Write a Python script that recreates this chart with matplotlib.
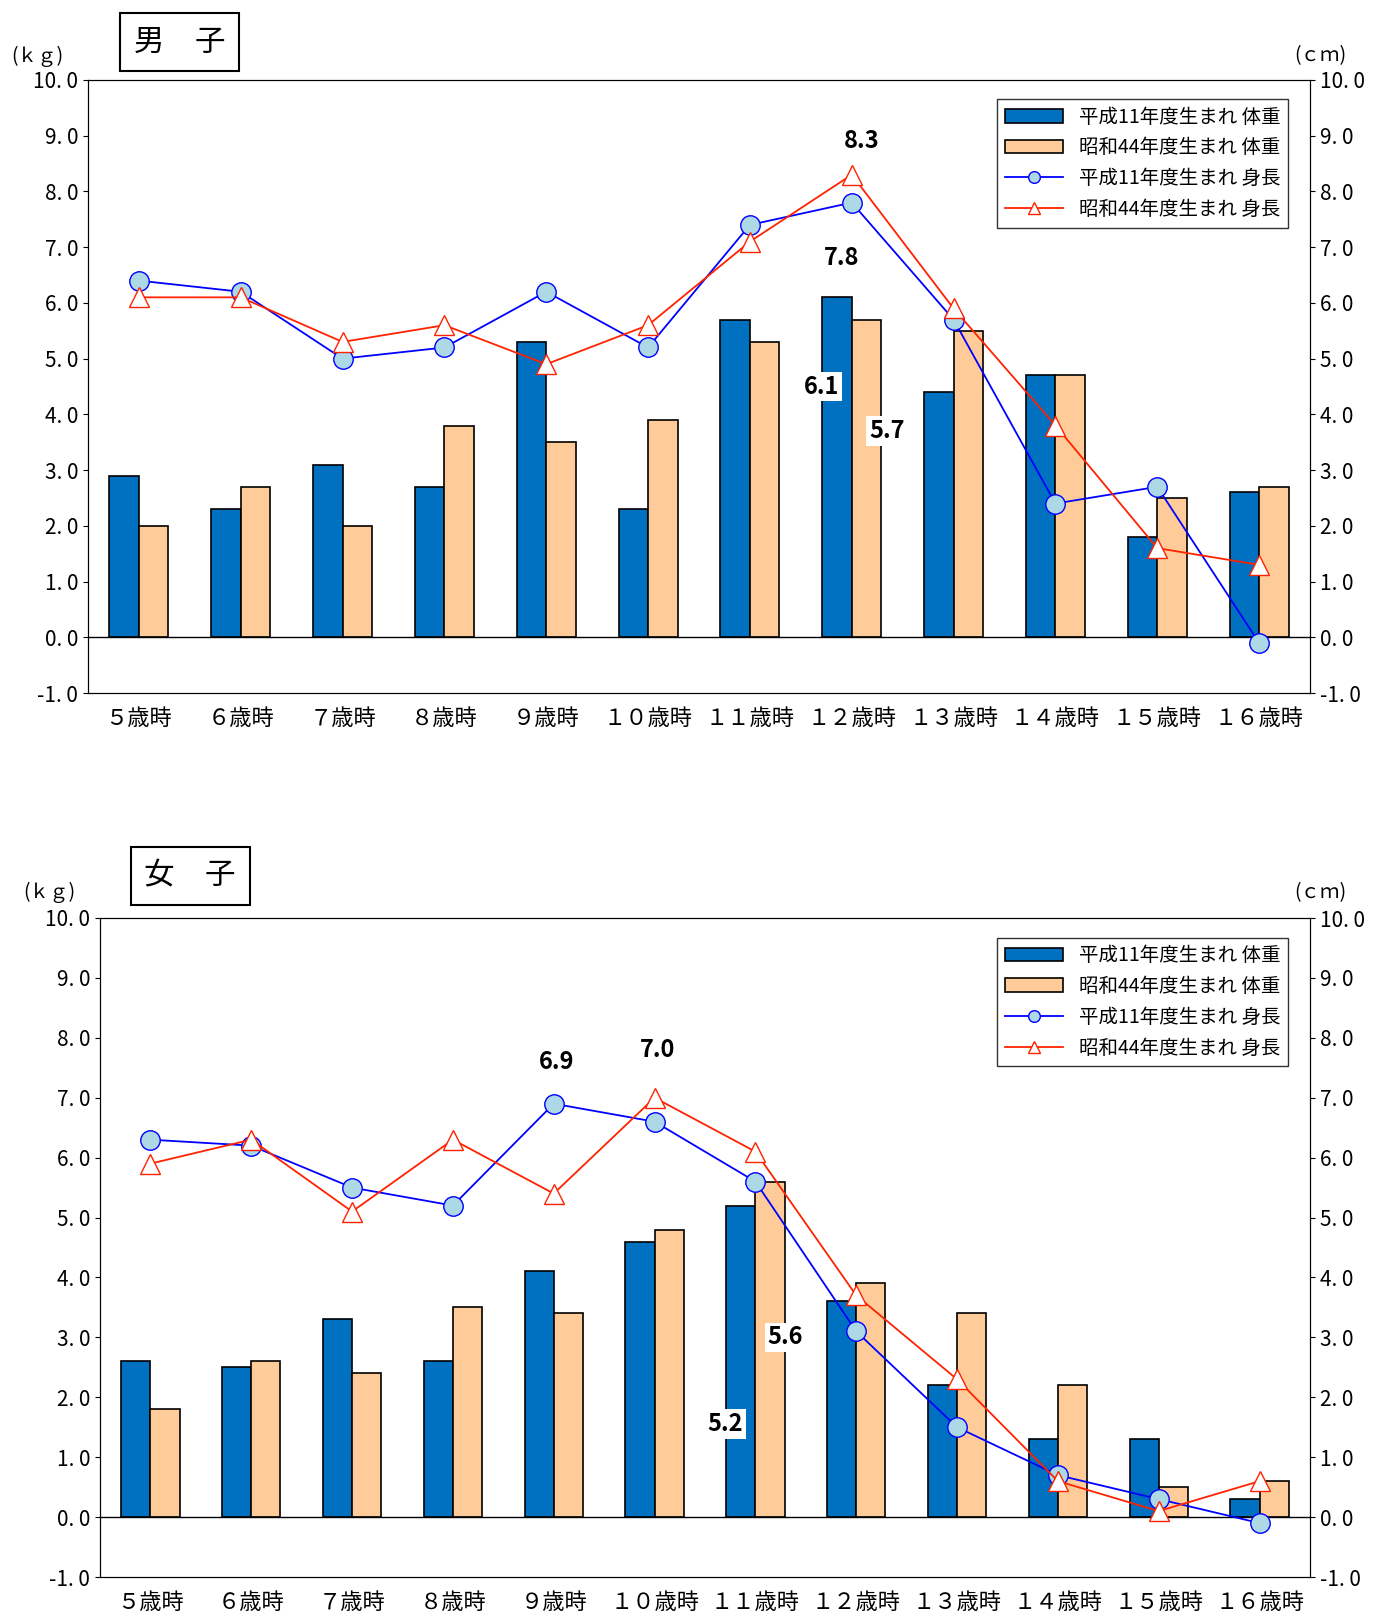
import numpy as np
import matplotlib.pyplot as plt

plt.rcParams['font.family'] = ['Noto Sans CJK JP', 'DejaVu Sans']

ages = ['５歳時', '６歳時', '７歳時', '８歳時', '９歳時', '１０歳時', '１１歳時',
        '１２歳時', '１３歳時', '１４歳時', '１５歳時', '１６歳時']

boys_w_h11 = [2.9, 2.3, 3.1, 2.7, 5.3, 2.3, 5.7, 6.1, 4.4, 4.7, 1.8, 2.6]
boys_w_s44 = [2.0, 2.7, 2.0, 3.8, 3.5, 3.9, 5.3, 5.7, 5.5, 4.7, 2.5, 2.7]
boys_h_h11 = [6.4, 6.2, 5.0, 5.2, 6.2, 5.2, 7.4, 7.8, 5.7, 2.4, 2.7, -0.1]
boys_h_s44 = [6.1, 6.1, 5.3, 5.6, 4.9, 5.6, 7.1, 8.3, 5.9, 3.8, 1.6, 1.3]

girls_w_h11 = [2.6, 2.5, 3.3, 2.6, 4.1, 4.6, 5.2, 3.6, 2.2, 1.3, 1.3, 0.3]
girls_w_s44 = [1.8, 2.6, 2.4, 3.5, 3.4, 4.8, 5.6, 3.9, 3.4, 2.2, 0.5, 0.6]
girls_h_h11 = [6.3, 6.2, 5.5, 5.2, 6.9, 6.6, 5.6, 3.1, 1.5, 0.7, 0.3, -0.1]
girls_h_s44 = [5.9, 6.3, 5.1, 6.3, 5.4, 7.0, 6.1, 3.7, 2.3, 0.6, 0.1, 0.6]

# 注記: (系列, index, x方向ずれ, y方向ずれ)
boys_notes = [('w1', 7, -0.15, -1.6), ('w2', 7, 0.2, -2.0), ('h1', 7, -0.1, -1.0), ('h2', 7, 0.1, 0.6)]
girls_notes = [('w1', 6, -0.15, -3.65), ('w2', 6, 0.15, -2.6), ('h1', 4, 0.03, 0.7), ('h2', 5, 0.03, 0.8)]

fig = plt.figure(figsize=(13.85, 16.18), dpi=100)
W, H = 1385, 1618
yt = np.arange(-1, 10.01, 1)
ylab = [('%.1f' % v).replace('.', '. ') for v in yt]


def panel(rect, title, title_box, w1, w2, h1, h2, notes):
    ax = fig.add_axes(rect)
    x = np.arange(len(ages))
    bw = 0.29
    b1 = ax.bar(x - bw / 2, w1, bw, color='#0070C0', edgecolor='black', lw=1.2, label='平成11年度生まれ 体重', zorder=2)
    b2 = ax.bar(x + bw / 2, w2, bw, color='#FFCC99', edgecolor='black', lw=1.2, label='昭和44年度生まれ 体重', zorder=2)
    l1, = ax.plot(x, h1, color='#0000FF', lw=1.3, marker='o', ms=14, mfc='#ADD8E6', mec='#0000FF', label='平成11年度生まれ 身長', zorder=3)
    l2, = ax.plot(x, h2, color='#FF2200', lw=1.3, marker='^', ms=14, mfc='white', mec='#FF2200', label='昭和44年度生まれ 身長', zorder=4)
    ax.axhline(0, color='black', lw=1)
    ax.set_xlim(-0.5, len(ages) - 0.5)
    ax.set_ylim(-1, 10)
    ax.set_yticks(yt)
    ax.set_yticklabels(ylab, fontsize=15)
    ax.set_xticks(x)
    ax.set_xticklabels(ages, fontsize=16)
    ax.tick_params(axis='x', length=0, pad=10)
    ax2 = ax.twinx()
    ax2.set_ylim(-1, 10)
    ax2.set_yticks(yt)
    ax2.set_yticklabels(ylab, fontsize=15)
    ax.text(-0.02, 1.03, '(ｋｇ)', transform=ax.transAxes, fontsize=14, ha='right')
    ax2.text(1.03, 1.03, '(ｃｍ)', transform=ax.transAxes, fontsize=14, ha='right')
    series = {'w1': (w1, -bw / 2), 'w2': (w2, bw / 2), 'h1': (h1, 0), 'h2': (h2, 0)}
    for key, i, dx, dy in notes:
        vals, off = series[key]
        v = vals[i]
        ax.text(i + off + dx, v + dy, '%.1f' % v, fontsize=17, fontweight='bold',
                ha='center', va='center', zorder=6,
                bbox=dict(fc='white', ec='none', pad=2))
    leg = ax.legend([b1, b2, l1, l2], [b1.get_label(), b2.get_label(), l1.get_label(), l2.get_label()],
                    loc='upper right', bbox_to_anchor=(0.99, 0.985), fontsize=14,
                    fancybox=False, edgecolor='black', handlelength=3, markerscale=0.6)
    leg.get_frame().set_linewidth(1)
    fig.text(title_box[0], title_box[1], title, fontsize=22, ha='center', va='center',
             bbox=dict(fc='white', ec='black', lw=1.5, boxstyle='square,pad=0.45'))
    return ax


panel([88 / W, 1 - 693 / H, 1222 / W, 613 / H], '男　子', (180 / W, 1 - 42 / H),
      boys_w_h11, boys_w_s44, boys_h_h11, boys_h_s44, boys_notes)
panel([100 / W, 1 - 1577 / H, 1210 / W, 659 / H], '女　子', (190 / W, 1 - 876 / H),
      girls_w_h11, girls_w_s44, girls_h_h11, girls_h_s44, girls_notes)

fig.savefig('out.png', dpi=100)
